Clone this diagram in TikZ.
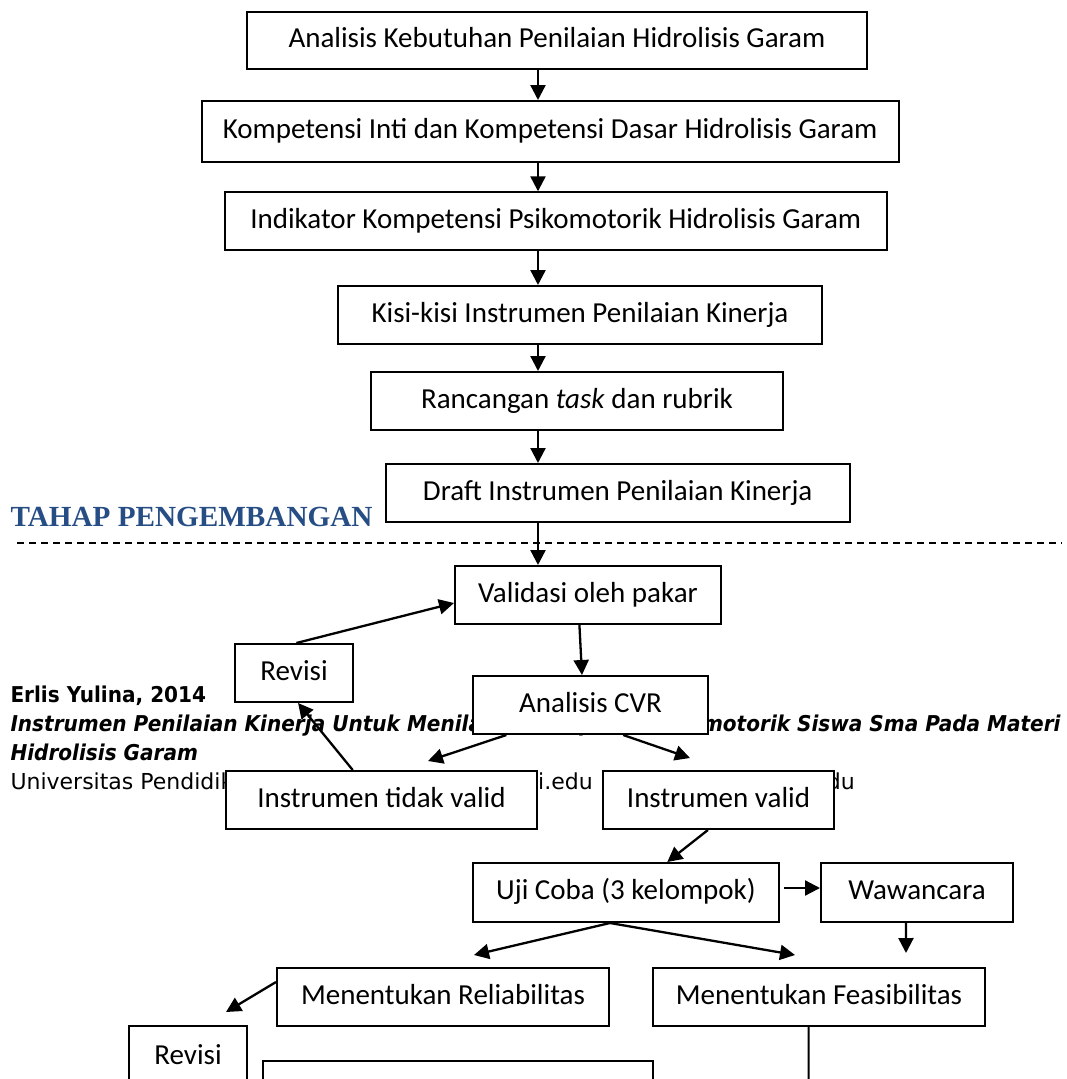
\documentclass[tikz,border=0pt]{standalone}
\usepackage{fontspec}
\setmainfont{Carlito}
\newfontfamily\footfont{DejaVu Sans}
\newfontfamily\footboldfont[FakeStretch=0.92]{DejaVu Sans}
\newfontfamily\titlefont{Liberation Serif}
\usetikzlibrary{arrows.meta,calc}
\definecolor{titleblue}{RGB}{38,78,133}
\begin{document}
\begin{tikzpicture}[x=1pt,y=-1pt,
  box/.style={draw, line width=2pt, fill=white, inner sep=0pt,
    font=\fontsize{29}{35}\selectfont, text height=20pt, text depth=6pt},
  arr/.style={line width=2.3pt, -{Triangle[length=15pt,width=15pt]}},
  plainline/.style={line width=2pt},
  foot/.style={anchor=base west, inner sep=0pt,
    font=\footfont\fontsize{22}{28.7}\selectfont},
  footb/.style={anchor=base west, inner sep=0pt,
    font=\footboldfont\bfseries\fontsize{21.8}{28.7}\selectfont},
  titletext/.style={anchor=base west, inner sep=0pt, text=titleblue,
    font=\titlefont\bfseries\fontsize{29.2}{35}\selectfont},
  sep/.style={line width=1.8pt, dash pattern=on 7pt off 5pt}]
\useasboundingbox (0,0) rectangle (1067,1079);

% footer text (behind the boxes)
\node[footb] (f1) at (10.3,702) {Erlis Yulina, 2014};
\node[footb] (f2) at (10.3,731) {\itshape Instrumen Penilaian Kinerja Untuk Menilai Kemampuan Psikomotorik Siswa Sma Pada Materi};
\node[footb] (f3) at (10.3,760) {\itshape Hidrolisis Garam};
\node[foot] (f4) at (10.3,789) {Universitas Pendidikan Indonesia | repository.upi.edu | perpustakaan.upi.edu};

% title and separator
\node[titletext] (title) at (10.3,526) {TAHAP PENGEMBANGAN};
\coordinate (d1) at (17,543.3);
\coordinate (d2) at (1062,543.3);
\draw[sep] (d1) -- (d2);

\coordinate (ax) at (538,0);

% boxes
\node[box, minimum width=620pt, minimum height=57pt] (b1) at (557,40.8) {Analisis Kebutuhan Penilaian Hidrolisis Garam};
\node[box, minimum width=697pt, minimum height=60.7pt] (b2) at (550.1,131.35) {Kompetensi Inti dan Kompetensi Dasar Hidrolisis Garam};
\node[box, minimum width=662.5pt, minimum height=57.7pt] (b3) at (555.75,221.15) {Indikator Kompetensi Psikomotorik Hidrolisis Garam};
\node[box, minimum width=484pt, minimum height=58.3pt] (b4) at (580,315.15) {Kisi-kisi Instrumen Penilaian Kinerja};
\node[box, minimum width=412pt, minimum height=58pt] (b5) at (577,401) {Rancangan \textit{task} dan rubrik};
\node[box, minimum width=464pt, minimum height=58.3pt] (b6) at (617.7,493.15) {Draft Instrumen Penilaian Kinerja};

\node[box, minimum width=266pt, minimum height=58pt] (val) at (588,595) {Validasi oleh pakar};
\node[box, minimum width=118pt, minimum height=58pt] (rev1) at (294,673) {Revisi};
\node[box, minimum width=235pt, minimum height=58pt] (cvr) at (590.5,705) {Analisis CVR};
\node[box, minimum width=311pt, minimum height=58pt] (itv) at (381.5,800) {Instrumen tidak valid};
\node[box, minimum width=231pt, minimum height=58pt] (iv) at (718.5,800) {Instrumen valid};
\node[box, minimum width=306pt, minimum height=59pt] (uji) at (626,892.5) {Uji Coba (3 kelompok)};
\node[box, minimum width=192pt, minimum height=59pt] (waw) at (917,892.5) {Wawancara};
\node[box, minimum width=332pt, minimum height=58pt] (rel) at (443,997) {Menentukan Reliabilitas};
\node[box, minimum width=332pt, minimum height=58pt] (fea) at (819,997) {Menentukan Feasibilitas};
\node[box, minimum width=118pt, minimum height=62pt] (rev2) at (188,1057) {Revisi};
\node[box, minimum width=389.6pt, minimum height=79pt] (big) at (457.8,1100.2) {};

% free ends
\coordinate (t1) at (428,761);
\coordinate (t2) at (690,758);
\coordinate (t3) at (906,953);
\coordinate (t4) at (474,955);
\coordinate (t5) at (795,955);
\coordinate (t6) at (226,1012);
\coordinate (t7) at (808.7,1085);

% connectors
\draw[arr] (b1.south -| ax) -- (b2.north -| ax);
\draw[arr] (b2.south -| ax) -- (b3.north -| ax);
\draw[arr] (b3.south -| ax) -- (b4.north -| ax);
\draw[arr] (b4.south -| ax) -- (b5.north -| ax);
\draw[arr] (b5.south -| ax) -- (b6.north -| ax);
\draw[arr] (b6.south -| ax) -- (val.north -| ax);
\draw[arr] ($(rev1.north west)!0.52!(rev1.north east)$) -- ($(val.west)+(0,8)$);
\draw[arr] ($(val.south west)!0.468!(val.south east)$) -- ($(cvr.north west)!0.464!(cvr.north east)$);
\draw[arr] ($(cvr.south west)!0.145!(cvr.south east)$) -- (t1);
\draw[arr] ($(cvr.south west)!0.638!(cvr.south east)$) -- (t2);
\draw[arr] ($(itv.north west)!0.408!(itv.north east)$) -- ($(rev1.south west)!0.534!(rev1.south east)$);
\draw[arr] ($(iv.south west)!0.4545!(iv.south east)$) -- ($(uji.north west)!0.634!(uji.north east)$);
\draw[arr] ($(uji.east)+(4,-4.5)$) -- ($(waw.west)+(0,-4.5)$);
\draw[arr] ($(waw.south west)!0.443!(waw.south east)$) -- (t3);
\draw[arr] ($(uji.south west)!0.448!(uji.south east)$) -- (t4);
\draw[arr] ($(uji.south west)!0.448!(uji.south east)$) -- (t5);
\draw[arr] ($(rel.north west)+(0,15)$) -- (t6);
\draw[plainline] ($(fea.south west)!0.469!(fea.south east)$) -- (t7);
\end{tikzpicture}
\end{document}
